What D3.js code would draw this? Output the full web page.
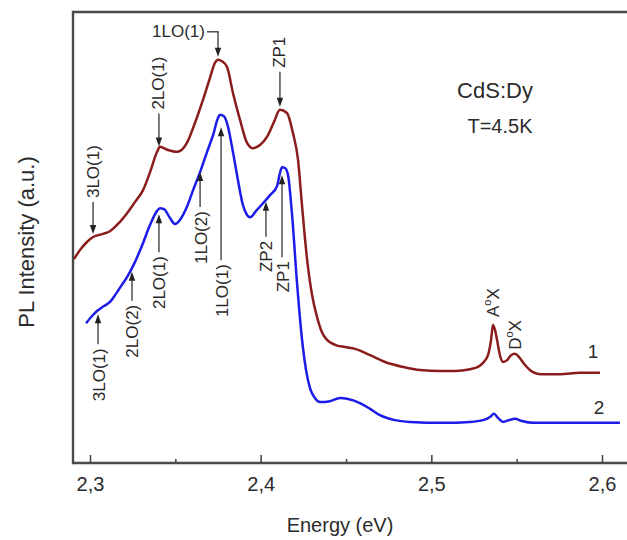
<!DOCTYPE html>
<html>
<head>
<meta charset="utf-8">
<script src="https://cdn.jsdelivr.net/npm/d3@7"></script>
<style>
  body { margin: 0; background: #fff; }
  svg { display: block; }
  text { font-family: "Liberation Sans", Arial, Helvetica, sans-serif; fill: #2b2b2b; }
</style>
</head>
<body>
<svg id="chart" width="627" height="540"></svg>
<script>
// PL spectrum of sample 1 (upper trace): photon energy, eV
const energy1 = [2.2906, 2.2941, 2.2982, 2.3018, 2.3076, 2.3117, 2.3164, 2.3217, 2.3264, 2.3311,
  2.3352, 2.3393, 2.3410, 2.3457, 2.3510, 2.3568, 2.3615, 2.3662, 2.3703, 2.3732,
  2.3750, 2.3773, 2.3803, 2.3838, 2.3879, 2.3920, 2.3955, 2.3996, 2.4037, 2.4078,
  2.4113, 2.4154, 2.4189, 2.4219, 2.4242, 2.4271, 2.4301, 2.4330, 2.4359, 2.4389,
  2.4436, 2.4494, 2.4553, 2.4641, 2.4729, 2.4834, 2.4934, 2.5051, 2.5139, 2.5227,
  2.5273, 2.5303, 2.5332, 2.5350, 2.5361, 2.5373, 2.5385, 2.5402, 2.5420, 2.5444,
  2.5467, 2.5490, 2.5514, 2.5543, 2.5578, 2.5637, 2.5754, 2.5871, 2.5988];
// PL intensity of sample 1, a.u.
const intensity1 = [45.2, 47.2, 49.0, 50.1, 50.8, 51.4, 53.0, 55.4, 57.9, 60.5,
  64.5, 69.0, 70.1, 69.4, 69.0, 71.0, 75.4, 80.5, 85.4, 88.7,
  89.4, 89.1, 87.8, 82.0, 76.1, 71.0, 69.8, 70.5, 72.3, 75.6,
  78.3, 77.6, 73.2, 67.2, 57.2, 45.5, 37.3, 32.4, 29.0, 27.3,
  26.2, 25.7, 25.3, 23.9, 22.4, 21.3, 20.6, 20.4, 20.4, 20.8,
  21.3, 22.2, 23.9, 27.3, 30.6, 29.5, 27.3, 23.9, 22.4, 22.8,
  23.9, 24.2, 23.5, 22.0, 20.6, 19.7, 19.7, 20.0, 20.0];

// PL spectrum of sample 2 (lower trace): photon energy, eV
const energy2 = [2.2977, 2.3012, 2.3041, 2.3082, 2.3117, 2.3152, 2.3187, 2.3217, 2.3264, 2.3311,
  2.3352, 2.3393, 2.3410, 2.3434, 2.3469, 2.3498, 2.3527, 2.3568, 2.3604, 2.3645,
  2.3686, 2.3721, 2.3750, 2.3762, 2.3785, 2.3809, 2.3832, 2.3867, 2.3896, 2.3920,
  2.3938, 2.3973, 2.4014, 2.4055, 2.4096, 2.4113, 2.4125, 2.4143, 2.4160, 2.4184,
  2.4213, 2.4230, 2.4248, 2.4266, 2.4289, 2.4318, 2.4348, 2.4406, 2.4465, 2.4512,
  2.4582, 2.4641, 2.4699, 2.4787, 2.4875, 2.5068, 2.5227, 2.5303, 2.5344, 2.5367,
  2.5391, 2.5420, 2.5455, 2.5490, 2.5531, 2.5596, 2.5754, 2.5930, 2.6105];
// PL intensity of sample 2, a.u.
const intensity2 = [31.0, 32.6, 33.7, 34.8, 35.7, 37.5, 39.5, 41.2, 44.6, 48.8,
  52.8, 55.9, 56.5, 56.3, 54.3, 53.0, 53.9, 56.8, 60.5, 64.5,
  69.0, 72.7, 76.5, 77.2, 76.9, 74.5, 70.1, 62.7, 57.2, 55.0,
  54.5, 55.9, 57.6, 59.4, 61.4, 64.3, 65.6, 65.4, 63.9, 55.0,
  39.9, 32.2, 25.5, 20.6, 16.6, 14.4, 13.5, 13.7, 14.4, 14.2,
  13.3, 12.0, 10.6, 9.5, 9.1, 8.9, 9.1, 9.5, 10.2, 10.9,
  10.0, 9.1, 9.5, 9.8, 9.3, 8.9, 8.9, 8.9, 8.9];

// Energy axis ticks
const xTicks = [2.3, 2.4, 2.5, 2.6];
const xTickLabels = ["2,3", "2,4", "2,5", "2,6"];
const xMinorTicks = [2.35, 2.45, 2.55];

// Line assignments on trace 1 (arrows from above)
const labels1 = ["3LO(1)", "2LO(1)", "1LO(1)", "ZP1"];
const labelEnergy1 = [2.3018, 2.3404, 2.3750, 2.4113];
// Line assignments on trace 2 (arrows from below)
const labels2 = ["3LO(1)", "2LO(2)", "2LO(1)", "1LO(2)", "1LO(1)", "ZP2", "ZP1"];
const labelEnergy2 = [2.3047, 2.3246, 2.3404, 2.3645, 2.3768, 2.4031, 2.4125];
// Bound exciton lines on trace 1
const excitonLetters = ["A", "D"];
const excitonEnergy = [2.5361, 2.5490];

const W = 627, H = 540;
const plotLeft = 73, plotTop = 12, plotBottom = 463;
const red = "#8a1c1c", blue = "#1c1ce8";

const svg = d3.select("#chart");
const x = d3.scaleLinear().domain([2.3, 2.6]).range([90, 602]);
const y = d3.scaleLinear().domain([0, 100]).range([plotBottom, plotTop]);

const series1 = energy1.map((e, i) => ({ e, v: intensity1[i] }));
const series2 = energy2.map((e, i) => ({ e, v: intensity2[i] }));

const line = d3.line().x(d => x(d.e)).y(d => y(d.v)).curve(d3.curveMonotoneX);

// Value of a trace at a given energy
function valueAt(series, e) {
  const i = d3.bisector(d => d.e).left(series, e);
  if (i <= 0) return series[0].v;
  if (i >= series.length) return series[series.length - 1].v;
  const a = series[i - 1], b = series[i];
  return a.v + (b.v - a.v) * (e - a.e) / (b.e - a.e);
}

// Frame: left, top and bottom lines
const frame = svg.append("g").attr("stroke", "#4a4a4a").attr("stroke-width", 2.4);
frame.append("line").attr("x1", plotLeft).attr("x2", plotLeft).attr("y1", plotTop - 1.2).attr("y2", plotBottom + 1.2);
frame.append("line").attr("x1", plotLeft).attr("x2", W).attr("y1", plotTop).attr("y2", plotTop);
frame.append("line").attr("x1", plotLeft).attr("x2", W).attr("y1", plotBottom).attr("y2", plotBottom);

// Bottom axis ticks (inward)
const axisMajor = d3.axisBottom(x).tickValues(xTicks).tickSize(-8).tickPadding(14)
  .tickFormat((d, i) => xTickLabels[i]);
const gx = svg.append("g").attr("transform", `translate(0,${plotBottom})`).call(axisMajor);
gx.select(".domain").remove();
gx.selectAll(".tick line").attr("stroke", "#4a4a4a").attr("stroke-width", 1.6);
gx.selectAll(".tick text").attr("font-size", 20).attr("fill", "#2b2b2b")
  .attr("font-family", '"Liberation Sans", Arial, sans-serif');

const axisMinor = d3.axisBottom(x).tickValues(xMinorTicks).tickSize(-4).tickFormat("");
const gm = svg.append("g").attr("transform", `translate(0,${plotBottom})`).call(axisMinor);
gm.select(".domain").remove();
gm.selectAll(".tick line").attr("stroke", "#4a4a4a").attr("stroke-width", 1.6);

// Axis titles
svg.append("text").attr("x", 340).attr("y", 532).attr("text-anchor", "middle")
  .attr("font-size", 20).text("Energy (eV)");
svg.append("text").attr("transform", "translate(34,242) rotate(-90)")
  .attr("text-anchor", "middle").attr("font-size", 22).text("PL Intensity (a.u.)");

// Spectra
svg.append("path").datum(series1).attr("d", line)
  .attr("fill", "none").attr("stroke", red).attr("stroke-width", 2.5).attr("stroke-linejoin", "round");
svg.append("path").datum(series2).attr("d", line)
  .attr("fill", "none").attr("stroke", blue).attr("stroke-width", 2.5).attr("stroke-linejoin", "round");

// Arrow markers for assignments
const ann = svg.append("g");
const annFont = 17;
function arrow(px, tipY, tailY) {
  const dir = tailY < tipY ? 1 : -1; // 1: arrow points down
  ann.append("line").attr("x1", px).attr("x2", px).attr("y1", tailY).attr("y2", tipY - dir * 5)
    .attr("stroke", "#333").attr("stroke-width", 1.3);
  ann.append("path")
    .attr("d", `M${px},${tipY} L${px - 3.2},${tipY - dir * 9} L${px + 3.2},${tipY - dir * 9} Z`)
    .attr("fill", "#222");
}
function vlabel(px, yPos, anchor, txt) {
  ann.append("text").attr("transform", `translate(${px},${yPos}) rotate(-90)`)
    .attr("text-anchor", anchor).attr("dominant-baseline", "central")
    .attr("font-size", annFont).text(txt);
}

// Trace 1: [gap above curve, stem length] per label
const layout1 = [[3, 32], [2, 33], [3, 25], [3, 35]];
labels1.forEach((lab, i) => {
  const px = x(labelEnergy1[i]);
  const tip = y(valueAt(series1, labelEnergy1[i])) - layout1[i][0];
  const tail = tip - layout1[i][1];
  arrow(px, tip, tail);
  if (lab === "1LO(1)") {
    ann.append("line").attr("x1", px - 11).attr("x2", px + 0.6).attr("y1", tail).attr("y2", tail)
      .attr("stroke", "#333").attr("stroke-width", 1.3);
    ann.append("text").attr("x", px - 13).attr("y", tail).attr("text-anchor", "end")
      .attr("dominant-baseline", "central").attr("font-size", annFont).text(lab);
  } else {
    vlabel(px, tail - 4, "start", lab);
  }
});

// Trace 2: [gap below curve, stem length] per label
const layout2 = [[4, 30], [4, 29], [5, 38], [0, 35], [12, 133], [2, 35], [8, 82]];
labels2.forEach((lab, i) => {
  const px = x(labelEnergy2[i]);
  const tip = y(valueAt(series2, labelEnergy2[i])) + layout2[i][0];
  const tail = tip + layout2[i][1];
  arrow(px, tip, tail);
  vlabel(px + 1, tail + 4, "end", lab);
});

// Exciton labels A°X and D°X
const excGap = [8, 4];
excitonLetters.forEach((L, i) => {
  const px = x(excitonEnergy[i]);
  const base = y(valueAt(series1, excitonEnergy[i])) - excGap[i];
  const t = svg.append("text").attr("transform", `translate(${px},${base}) rotate(-90)`)
    .attr("text-anchor", "start").attr("dominant-baseline", "central").attr("font-size", 17);
  t.append("tspan").text(L);
  t.append("tspan").attr("font-size", 11).attr("dy", -6).text("o");
  t.append("tspan").attr("dy", 6).text("X");
});

// Curve numbers
svg.append("text").attr("x", 593).attr("y", 358).attr("text-anchor", "middle")
  .attr("font-size", 19).text("1");
svg.append("text").attr("x", 599).attr("y", 414).attr("text-anchor", "middle")
  .attr("font-size", 19).text("2");

// Sample and temperature
svg.append("text").attr("x", 495).attr("y", 98).attr("text-anchor", "middle")
  .attr("font-size", 22).text("CdS:Dy");
svg.append("text").attr("x", 500).attr("y", 133).attr("text-anchor", "middle")
  .attr("font-size", 20).text("T=4.5K");
</script>
</body>
</html>
